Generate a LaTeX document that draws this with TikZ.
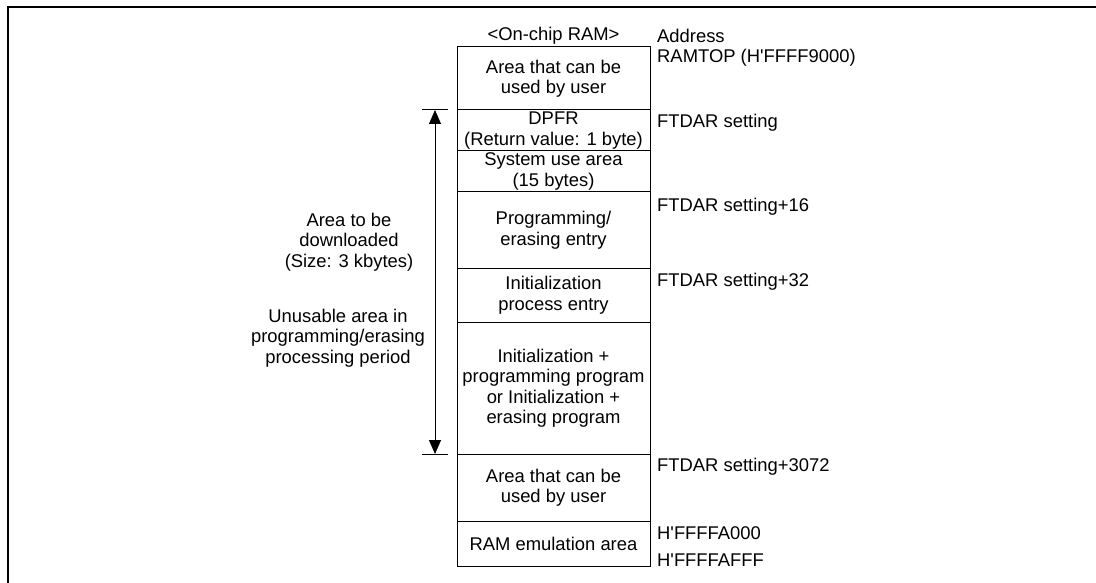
\documentclass[tikz,border=0pt]{standalone}
\usepackage{fontspec}
\setmainfont{Liberation Sans}
\usetikzlibrary{positioning,arrows.meta}

\tikzset{
  ramcell/.style={draw,line width=1pt,minimum width=193pt,align=center,
    inner sep=0pt,outer sep=0pt,font=\fontsize{18.4pt}{20.5pt}\selectfont},
  addr/.style={anchor=west,inner sep=0pt,font=\fontsize{18.4pt}{20.5pt}\selectfont},
  note/.style={align=center,inner sep=0pt,font=\fontsize{18.4pt}{20.5pt}\selectfont}
}

\begin{document}
\begin{tikzpicture}[x=1pt,y=-1pt]
  \useasboundingbox (0,0) rectangle (1096,583);
  % frame
  \draw[line width=2pt] (7.5,583) -- (7.5,7) -- (1096,7);

  % memory map
  \node[ramcell,minimum height=63pt,anchor=north] (usr1) at (553.5,47)
    {Area that can be\\used by user};
  \node[ramcell,minimum height=41pt,below=0pt of usr1] (dpfr)
    {DPFR\\(Return value: 1 byte)};
  \node[ramcell,minimum height=41pt,below=0pt of dpfr] (sys)
    {System use area\\(15 bytes)};
  \node[ramcell,minimum height=76pt,below=0pt of sys] (pent)
    {Programming/\\erasing entry};
  \node[ramcell,minimum height=54pt,below=0pt of pent] (ient)
    {Initialization\\process entry};
  \node[ramcell,minimum height=132pt,below=0pt of ient] (prog)
    {Initialization +\\programming program\\or Initialization +\\erasing program};
  \node[ramcell,minimum height=67pt,below=0pt of prog] (usr2)
    {Area that can be\\used by user};
  \node[ramcell,minimum height=45pt,below=0pt of usr2] (emu)
    {RAM emulation area};

  \node[note] (title) at ([yshift=11pt]usr1.north) {<On-chip RAM>};

  % addresses
  \node[addr] (adhead) at ([xshift=7pt,yshift=11pt]usr1.north east) {Address};
  \node[addr] (ramtop) at ([xshift=7pt,yshift=-11pt]usr1.north east) {RAMTOP (H\textquotesingle FFFF9000)};
  \node[addr] (ftdar) at ([xshift=7pt,yshift=-13pt]dpfr.north east) {FTDAR setting};
  \node[addr] (ftdar16) at ([xshift=7pt,yshift=-15pt]pent.north east) {FTDAR setting+16};
  \node[addr] (ftdar32) at ([xshift=7pt,yshift=-14pt]ient.north east) {FTDAR setting+32};
  \node[addr] (ftdar3k) at ([xshift=7pt,yshift=-13pt]usr2.north east) {FTDAR setting+3072};
  \node[addr] (emutop) at ([xshift=7pt,yshift=-12pt]emu.north east) {H\textquotesingle FFFFA000};
  \node[addr] (emuend) at ([xshift=7pt,yshift=6pt]emu.south east) {H\textquotesingle FFFFAFFF};

  % download range
  \coordinate (ttop) at ([xshift=-22pt]dpfr.north west);
  \coordinate (tbot) at ([xshift=-22pt]usr2.north west);
  \draw[line width=1pt] ([xshift=-13pt]ttop) -- ([xshift=13pt]ttop);
  \draw[line width=1pt] ([xshift=-13pt]tbot) -- ([xshift=13pt]tbot);
  \draw[line width=1pt,{Triangle[width=12pt,length=14pt]}-{Triangle[width=12pt,length=14pt]}]
    (ttop) -- (tbot);

  \node[note] (dlarea) at (349,242) {Area to be\\downloaded\\(Size: 3 kbytes)};
  \node[note] (unusable) at (338,338) {Unusable area in\\programming/erasing\\processing period};
\end{tikzpicture}
\end{document}
